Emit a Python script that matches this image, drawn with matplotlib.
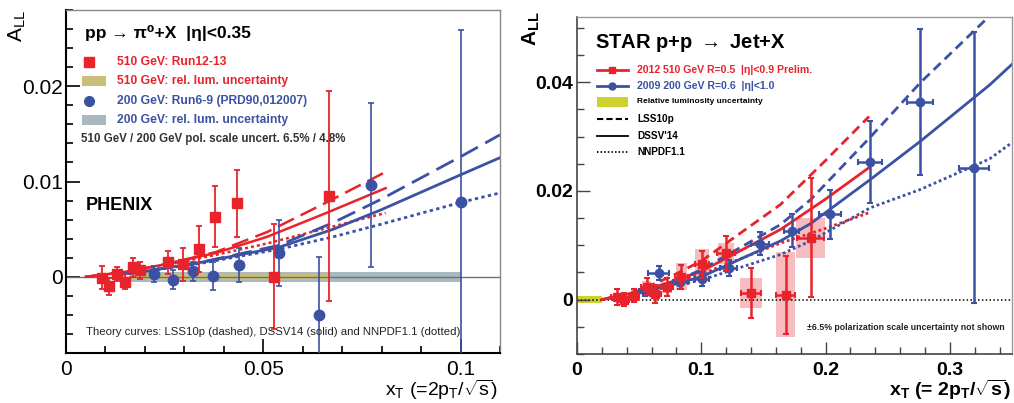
import matplotlib
matplotlib.use('Agg')
import matplotlib.pyplot as plt
from matplotlib.patches import Rectangle
from matplotlib.ticker import MultipleLocator, FixedLocator, FixedFormatter
from matplotlib.lines import Line2D

plt.rcParams['font.family'] = ['Liberation Sans', 'DejaVu Sans']
plt.rcParams['mathtext.fontset'] = 'custom'
plt.rcParams['mathtext.rm'] = 'Liberation Sans'
plt.rcParams['mathtext.it'] = 'Liberation Sans:italic'
plt.rcParams['mathtext.bf'] = 'Liberation Sans:bold'

RED = '#e8232b'
BLUE = '#3b51a3'

# ---------------- PHENIX (left) data ----------------
phx_red_x = [0.0091, 0.0110, 0.0129, 0.0150, 0.0169, 0.0188, 0.0258, 0.0296, 0.0338, 0.0378, 0.0433, 0.0526, 0.0666]
phx_red_y = [-0.0001, -0.0010, 0.0003, -0.0005, 0.0010, 0.0007, 0.0015, 0.0013, 0.0029, 0.0063, 0.0077, 0.0000, 0.0085]
phx_red_err = [0.0012, 0.0009, 0.0007, 0.0008, 0.0010, 0.0009, 0.0012, 0.0017, 0.0024, 0.0032, 0.0035, 0.0055, 0.0110]

phx_blue_x = [0.0222, 0.0272, 0.0322, 0.0372, 0.0438, 0.0541, 0.0640, 0.0774, 0.1000]
phx_blue_y = [0.0003, -0.0003, 0.0006, 0.0001, 0.0012, 0.0025, -0.0040, 0.0096, 0.0079]
phx_blue_err = [0.0008, 0.0010, 0.0010, 0.0015, 0.0018, 0.0035, 0.0061, 0.0086, 0.0180]

phx_red_th_x = [0.005, 0.015, 0.025, 0.038, 0.051, 0.066, 0.081]
phx_red_lss = [0.0, 0.0005, 0.0013, 0.0026, 0.0047, 0.0078, 0.0110]
phx_red_dssv = [0.0, 0.0005, 0.0013, 0.0025, 0.0042, 0.0067, 0.0093]
phx_red_nnpdf = [0.0, 0.0005, 0.0012, 0.0023, 0.0035, 0.0051, 0.0067]

phx_blue_th_x = [0.0145, 0.019, 0.034, 0.054, 0.0678, 0.0797, 0.100, 0.110]
phx_blue_lss = [0.0003, 0.0005, 0.0015, 0.0033, 0.0057, 0.0081, 0.0126, 0.0149]
phx_blue_dssv = [0.0003, 0.0005, 0.0015, 0.0031, 0.0050, 0.0070, 0.0107, 0.0125]
phx_blue_nnpdf = [0.0003, 0.0005, 0.0014, 0.0029, 0.0042, 0.0055, 0.0078, 0.0088]

phx_lum510_x = [0.016, 0.0666]
phx_lum510_half = 0.0003
phx_lum200_x = [0.016, 0.100]
phx_lum200_half = 0.00055

# ---------------- STAR (right) data ----------------
star_red_x = [0.032, 0.038, 0.0455, 0.056, 0.063, 0.0723, 0.084, 0.1006, 0.120, 0.140, 0.168, 0.188]
star_red_y = [0.0005, 0.0000, 0.0007, 0.0024, 0.0010, 0.0023, 0.0042, 0.0065, 0.0085, 0.0012, 0.0009, 0.0114]
star_red_yerr = [0.0014, 0.0012, 0.0012, 0.0015, 0.0017, 0.0017, 0.0022, 0.0025, 0.0032, 0.0046, 0.0072, 0.0110]
star_red_xerr = [0.0045, 0.004, 0.004, 0.0045, 0.0045, 0.005, 0.005, 0.006, 0.007, 0.008, 0.0075, 0.011]
star_red_sysx = [0.003, 0.003, 0.003, 0.0035, 0.0035, 0.004, 0.0047, 0.0054, 0.0067, 0.009, 0.0077, 0.0116]
star_red_sysy = [0.0005, 0.0005, 0.0005, 0.0010, 0.0008, 0.0010, 0.0025, 0.0028, 0.0020, 0.0028, 0.0078, 0.0037]

star_blue_x = [0.055, 0.0656, 0.083, 0.1006, 0.122, 0.147, 0.1726, 0.2035, 0.2355, 0.2758, 0.3196]
star_blue_y = [0.0015, 0.0049, 0.0032, 0.0038, 0.0058, 0.0103, 0.0127, 0.0157, 0.0253, 0.0364, 0.0243]
star_blue_yerr = [0.0009, 0.0012, 0.0012, 0.0013, 0.0015, 0.0021, 0.0031, 0.0045, 0.0076, 0.0134, 0.0250]
star_blue_xerr = [0.005, 0.0083, 0.006, 0.006, 0.0067, 0.0074, 0.0060, 0.0087, 0.0097, 0.0103, 0.0120]

star_red_th_x = [0.020, 0.050, 0.075, 0.100, 0.1637, 0.200, 0.235]
star_red_lss = [0.0, 0.0017, 0.0042, 0.0071, 0.0175, 0.0256, 0.0337]
star_red_dssv = [0.0, 0.0015, 0.0032, 0.0052, 0.0129, 0.0185, 0.0243]
star_red_nnpdf = [0.0, 0.0014, 0.0030, 0.0047, 0.0104, 0.0131, 0.0160]

star_blue_th_x = [0.045, 0.075, 0.100, 0.1637, 0.188, 0.236, 0.2766, 0.332, 0.350]
star_blue_lss = [0.0010, 0.0030, 0.0055, 0.0138, 0.0184, 0.0299, 0.0400, 0.0522, 0.0560]
star_blue_dssv = [0.0010, 0.0026, 0.0042, 0.0108, 0.0140, 0.0221, 0.0292, 0.0395, 0.0433]
star_blue_nnpdf = [0.0010, 0.0024, 0.0036, 0.0083, 0.0108, 0.0169, 0.0203, 0.0259, 0.0289]

star_lum_x = [0.0, 0.02]
star_lum_half = 0.0006

# ---------------- figure ----------------
fig = plt.figure(figsize=(10.14, 4.03), dpi=100)
ax1 = fig.add_axes([66/1014, 1-353/403, 434/1014, 343/403])
ax2 = fig.add_axes([577/1014, 1-354/403, 435/1014, 337/403])

# ===== left panel =====
ax1.set_xlim(0, 0.11)
ax1.set_ylim(-0.008, 0.028)
ax1.fill_between(phx_lum200_x, -phx_lum200_half, phx_lum200_half, color='#a9b8c1', lw=0, zorder=1)
ax1.fill_between(phx_lum510_x, -phx_lum510_half, phx_lum510_half, color='#c8c07a', lw=0, zorder=1.5)
ax1.axhline(0, color='#707070', lw=1.0, zorder=1.8)

ls_long = (0, (7, 3))
ax1.plot(phx_red_th_x, phx_red_lss, color=RED, lw=1.8, ls=ls_long, zorder=2)
ax1.plot(phx_red_th_x, phx_red_dssv, color=RED, lw=1.8, zorder=2)
ax1.plot(phx_red_th_x, phx_red_nnpdf, color=RED, lw=1.8, ls=(0, (1.2, 1.2)), zorder=2)
ax1.plot(phx_blue_th_x, phx_blue_lss, color=BLUE, lw=2.0, ls=ls_long, zorder=2)
ax1.plot(phx_blue_th_x, phx_blue_dssv, color=BLUE, lw=2.0, zorder=2)
ax1.plot(phx_blue_th_x, phx_blue_nnpdf, color=BLUE, lw=2.0, ls=(0, (1.2, 1.2)), zorder=2)

ax1.errorbar(phx_red_x, phx_red_y, yerr=phx_red_err, fmt='s', color=RED, ms=7, elinewidth=1.3,
             capsize=2.5, capthick=1.3, zorder=4)
ax1.errorbar(phx_blue_x, phx_blue_y, yerr=phx_blue_err, fmt='o', color=BLUE, ms=7.5, elinewidth=1.2,
             capsize=2.5, capthick=1.2, zorder=3)

ax1.xaxis.set_major_locator(FixedLocator([0, 0.05, 0.1]))
ax1.xaxis.set_major_formatter(FixedFormatter(['0', '0.05', '0.1']))
ax1.xaxis.set_minor_locator(MultipleLocator(0.01))
ax1.yaxis.set_major_locator(FixedLocator([0, 0.01, 0.02]))
ax1.yaxis.set_major_formatter(FixedFormatter(['0', '0.01', '0.02']))
ax1.yaxis.set_minor_locator(MultipleLocator(0.002))
ax1.tick_params(which='both', direction='in', top=False, right=False, labelsize=15, width=1.2, color='k')
ax1.tick_params(which='major', length=10)
ax1.tick_params(which='minor', length=5)
ax1.tick_params(axis='y', pad=2)
ax1.tick_params(axis='x', pad=5)
for s in ['left', 'bottom']:
    ax1.spines[s].set_linewidth(1.5)
for s in ['top', 'right']:
    ax1.spines[s].set_color('#888888')
    ax1.spines[s].set_linewidth(1.0)

T1 = ax1.transAxes
ax1.text(0.044, 0.933, 'pp → π⁰+X  |η|<0.35', transform=T1, fontsize=12.5, fontweight='bold', va='center')
ax1.plot([0.053], [0.848], 's', color=RED, ms=7, transform=T1)
ax1.text(0.1175, 0.848, '510 GeV: Run12-13', transform=T1, color=RED, fontsize=8.7, fontweight='bold', va='center')
ax1.add_patch(Rectangle((0.037, 0.793-0.015), 0.056, 0.03, transform=T1, color='#c8c07a', lw=0))
ax1.text(0.1175, 0.793, '510 GeV: rel. lum. uncertainty', transform=T1, color=RED, fontsize=8.7, fontweight='bold', va='center')
ax1.plot([0.053], [0.735], 'o', color=BLUE, ms=7, transform=T1)
ax1.text(0.1175, 0.735, '200 GeV: Run6-9 (PRD90,012007)', transform=T1, color=BLUE, fontsize=8.7, fontweight='bold', va='center')
ax1.add_patch(Rectangle((0.037, 0.679-0.015), 0.056, 0.03, transform=T1, color='#a9b8c1', lw=0))
ax1.text(0.1175, 0.679, '200 GeV: rel. lum. uncertainty', transform=T1, color=BLUE, fontsize=8.7, fontweight='bold', va='center')
ax1.text(0.0346, 0.624, '510 GeV / 200 GeV pol. scale uncert. 6.5% / 4.8%', transform=T1, color='#333333',
         fontsize=8.3, fontweight='bold', va='center')
ax1.text(0.046, 0.431, 'PHENIX', transform=T1, fontsize=13, fontweight='bold', va='center')
ax1.text(0.046, 0.061, 'Theory curves: LSS10p (dashed), DSSV14 (solid) and NNPDF1.1 (dotted)', transform=T1,
         fontsize=8.2, color='#222222', va='center')

fig.text(17/1014, 1-26/403, r'A$_{\mathrm{LL}}$', rotation=90, fontsize=15, ha='center', va='center')
fig.text(498/1014, 1-390/403, r'x$_{\mathrm{T}}$ (=2p$_{\mathrm{T}}$/$\sqrt{\mathrm{s}}$)', fontsize=14,
         ha='right', va='center')

# ===== right panel =====
ax2.set_xlim(0, 0.35)
ax2.set_ylim(-0.01, 0.052)
for xx, yy, hx, hy in zip(star_red_x, star_red_y, star_red_sysx, star_red_sysy):
    ax2.add_patch(Rectangle((xx-hx, yy-hy), 2*hx, 2*hy, facecolor='#f7bcbf', edgecolor='none', zorder=1))
ax2.fill_between(star_lum_x, -star_lum_half, star_lum_half, color='#cdd12c', lw=0, zorder=1)
ax2.axhline(0, color='k', ls=(0, (1, 1.5)), lw=1.1, zorder=1.5)

ls_dash = (0, (3.5, 2))
ls_dot = (0, (1, 1))
ax2.plot(star_red_th_x, star_red_lss, color=RED, lw=2.0, ls=ls_dash, zorder=2)
ax2.plot(star_red_th_x, star_red_dssv, color=RED, lw=2.0, zorder=2)
ax2.plot(star_red_th_x, star_red_nnpdf, color=RED, lw=2.0, ls=ls_dot, zorder=2)
ax2.plot(star_blue_th_x, star_blue_lss, color=BLUE, lw=2.0, ls=ls_dash, zorder=2)
ax2.plot(star_blue_th_x, star_blue_dssv, color=BLUE, lw=2.0, zorder=2)
ax2.plot(star_blue_th_x, star_blue_nnpdf, color=BLUE, lw=2.0, ls=ls_dot, zorder=2)

ax2.errorbar(star_blue_x, star_blue_y, xerr=star_blue_xerr, yerr=star_blue_yerr, fmt='o', color=BLUE, ms=6,
             elinewidth=1.8, capsize=2, capthick=1.5, zorder=3)
ax2.errorbar(star_red_x, star_red_y, xerr=star_red_xerr, yerr=star_red_yerr, fmt='s', color=RED, ms=6,
             elinewidth=1.8, capsize=2, capthick=1.5, zorder=4)

ax2.xaxis.set_major_locator(FixedLocator([0, 0.1, 0.2, 0.3]))
ax2.xaxis.set_major_formatter(FixedFormatter(['0', '0.1', '0.2', '0.3']))
ax2.xaxis.set_minor_locator(MultipleLocator(0.02))
ax2.yaxis.set_major_locator(FixedLocator([0, 0.02, 0.04]))
ax2.yaxis.set_major_formatter(FixedFormatter(['0', '0.02', '0.04']))
ax2.yaxis.set_minor_locator(MultipleLocator(0.005))
ax2.tick_params(which='both', direction='in', top=False, right=False, labelsize=14, width=1.0, color='#444444')
ax2.tick_params(which='major', length=9)
ax2.tick_params(which='minor', length=5)
ax2.tick_params(axis='y', pad=3)
ax2.tick_params(axis='x', pad=6)
for lab in ax2.get_xticklabels() + ax2.get_yticklabels():
    lab.set_fontweight('bold')
for s in ['left', 'bottom']:
    ax2.spines[s].set_color('#444444')
    ax2.spines[s].set_linewidth(1.2)
for s in ['top', 'right']:
    ax2.spines[s].set_color('#999999')
    ax2.spines[s].set_linewidth(1.0)

T2 = ax2.transAxes
ax2.text(0.041, 0.923, 'STAR p+p $\\rightarrow$ Jet+X', transform=T2, fontsize=14.5, fontweight='bold', va='center')
ax2.add_line(Line2D([0.046, 0.117], [0.843, 0.843], color=RED, lw=2, transform=T2))
ax2.plot([0.0815], [0.843], 's', color=RED, ms=5, transform=T2)
ax2.text(0.138, 0.843, '2012 510 GeV R=0.5  |η|<0.9 Prelim.', transform=T2, color=RED, fontsize=7.6,
         fontweight='bold', va='center')
ax2.add_line(Line2D([0.046, 0.117], [0.795, 0.795], color=BLUE, lw=2, transform=T2))
ax2.plot([0.0815], [0.795], 'o', color=BLUE, ms=5, transform=T2)
ax2.text(0.138, 0.795, '2009 200 GeV R=0.6  |η|<1.0', transform=T2, color=BLUE, fontsize=7.6,
         fontweight='bold', va='center')
ax2.add_patch(Rectangle((0.046, 0.748-0.016), 0.071, 0.032, transform=T2, color='#cdd12c', lw=0))
ax2.text(0.138, 0.748, 'Relative luminosity uncertainty', transform=T2, fontsize=6.0, fontweight='bold', va='center')
ax2.add_line(Line2D([0.046, 0.117], [0.697, 0.697], color='k', lw=1.5, ls=(0, (3, 1.5)), transform=T2))
ax2.text(0.138, 0.697, 'LSS10p', transform=T2, fontsize=7.2, fontweight='bold', va='center')
ax2.add_line(Line2D([0.046, 0.117], [0.647, 0.647], color='k', lw=1.3, transform=T2))
ax2.text(0.138, 0.647, "DSSV'14", transform=T2, fontsize=7.2, fontweight='bold', va='center')
ax2.add_line(Line2D([0.046, 0.117], [0.599, 0.599], color='k', lw=1.3, ls=(0, (0.8, 1.2)), transform=T2))
ax2.text(0.138, 0.599, 'NNPDF1.1', transform=T2, fontsize=7.2, fontweight='bold', va='center')
ax2.text(0.529, 0.080, '±6.5% polarization scale uncertainty not shown', transform=T2, fontsize=6.3,
         fontweight='bold', color='#222222', va='center')

fig.text(531/1014, 1-29/403, r'$\mathbf{A_{LL}}$', rotation=90, fontsize=15, ha='center', va='center')
fig.text(1011/1014, 1-390/403, r'$\mathbf{x_{T}}$ (= 2$\mathbf{p_{T}}$/$\mathbf{\sqrt{s}}$)', fontsize=14,
         fontweight='bold', ha='right', va='center')

fig.savefig('out.png', dpi=100)
